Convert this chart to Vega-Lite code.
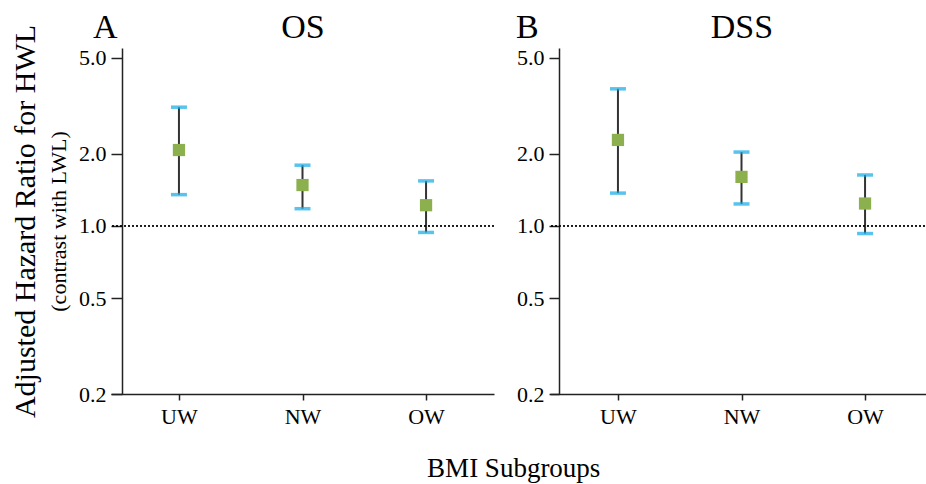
{
  "$schema": "https://vega.github.io/schema/vega-lite/v6.json",
  "background": "white",
  "padding": {"left": 10, "top": 10, "right": 0, "bottom": 5},
  "config": {
    "view": {"stroke": null},
    "font": "Liberation Serif",
    "axis": {"grid": false, "labelFont": "Liberation Serif", "titleFont": "Liberation Serif", "titleFontWeight": "normal", "labelColor": "#000", "titleColor": "#000", "domainColor": "#222", "tickColor": "#222", "domainWidth": 1.5, "tickWidth": 1.5},
    "title": {"font": "Liberation Serif", "fontWeight": "normal", "color": "#000"}
  },
  "bounds": "flush",
  "spacing": 56,
  "title": {"text": "BMI Subgroups", "orient": "bottom", "anchor": "middle", "font": "Liberation Serif", "fontWeight": "normal", "fontSize": 27, "dx": 42, "offset": 29},
  "datasets": {
    "hr": [
      {"panel": "OS", "group": "UW", "hr": 2.07, "lo": 1.35, "hi": 3.12},
      {"panel": "OS", "group": "NW", "hr": 1.48, "lo": 1.18, "hi": 1.79},
      {"panel": "OS", "group": "OW", "hr": 1.22, "lo": 0.94, "hi": 1.54},
      {"panel": "DSS", "group": "UW", "hr": 2.28, "lo": 1.37, "hi": 3.72},
      {"panel": "DSS", "group": "NW", "hr": 1.6, "lo": 1.235, "hi": 2.03},
      {"panel": "DSS", "group": "OW", "hr": 1.24, "lo": 0.93, "hi": 1.63}
    ]
  },
  "hconcat": [
    {
      "width": 383, "height": 346,
      "data": {"name": "hr"},
      "transform": [{"filter": "datum.panel === 'OS'"}],
      "title": {"text": "A", "anchor": "start", "frame": "group", "font": "Liberation Serif", "fontWeight": "normal", "fontSize": 34, "dx": -18, "offset": -35},
      "layer": [
        {
          "mark": {"type": "rule", "color": "#333", "strokeWidth": 2},
          "encoding": {
            "x": {"field": "group", "type": "nominal", "sort": ["UW", "NW", "OW"], "scale": {"type": "point", "padding": 0.55},
                  "axis": {"orient": "bottom", "title": null, "labelAngle": 0, "labelFont": "Liberation Serif", "labelFontSize": 22, "tickSize": 6, "labelPadding": 6}},
            "y": {"field": "lo", "type": "quantitative", "scale": {"type": "log", "domain": [0.2, 5.5], "nice": false},
                  "axis": {"orient": "left", "offset": -11, "values": [0.2, 0.5, 1, 2, 5], "format": ".1f", "tickSize": 11, "labelFont": "Liberation Serif", "labelFontSize": 22, "labelPadding": 5, "title": "(contrast with LWL)", "titleFont": "Liberation Serif", "titleFontSize": 22, "titlePadding": 8}},
            "y2": {"field": "hi"}
          }
        },
        {
          "mark": {"type": "tick", "color": "#12a9e6", "thickness": 3.5, "size": 16, "orient": "horizontal"},
          "encoding": {
            "x": {"field": "group", "type": "nominal", "sort": ["UW", "NW", "OW"],
                  "axis": {"orient": "top", "labels": false, "ticks": false, "domain": false, "title": "OS", "titleFont": "Liberation Serif", "titleFontSize": 34, "titlePadding": 4}},
            "y": {"field": "lo", "type": "quantitative",
                  "axis": {"orient": "left", "offset": -11, "labels": false, "ticks": false, "domain": false, "title": "Adjusted Hazard Ratio for HWL", "titleFont": "Liberation Serif", "titleFontSize": 30, "titlePadding": 82}}
          }
        },
        {
          "mark": {"type": "tick", "color": "#12a9e6", "thickness": 3.5, "size": 16, "orient": "horizontal"},
          "encoding": {
            "x": {"field": "group", "type": "nominal", "sort": ["UW", "NW", "OW"], "axis": null},
            "y": {"field": "hi", "type": "quantitative", "axis": null}
          }
        },
        {
          "mark": {"type": "square", "size": 150, "color": "#8cb04e", "opacity": 1, "filled": true},
          "encoding": {
            "x": {"field": "group", "type": "nominal", "sort": ["UW", "NW", "OW"], "axis": null},
            "y": {"field": "hr", "type": "quantitative", "axis": null}
          }
        },
        {
          "mark": {"type": "rule", "color": "#000", "strokeWidth": 1, "strokeDash": [2, 2]},
          "encoding": {"y": {"datum": 1, "type": "quantitative", "axis": null}}
        }
      ],
      "resolve": {"axis": {"x": "independent", "y": "independent"}}
    },
    {
      "width": 383, "height": 346,
      "data": {"name": "hr"},
      "transform": [{"filter": "datum.panel === 'DSS'"}],
      "title": {"text": "B", "anchor": "start", "frame": "group", "font": "Liberation Serif", "fontWeight": "normal", "fontSize": 34, "dx": -34, "offset": -35},
      "layer": [
        {
          "mark": {"type": "rule", "color": "#333", "strokeWidth": 2},
          "encoding": {
            "x": {"field": "group", "type": "nominal", "sort": ["UW", "NW", "OW"], "scale": {"type": "point", "padding": 0.55},
                  "axis": {"orient": "bottom", "title": null, "labelAngle": 0, "labelFont": "Liberation Serif", "labelFontSize": 22, "tickSize": 6, "labelPadding": 6}},
            "y": {"field": "lo", "type": "quantitative", "scale": {"type": "log", "domain": [0.2, 5.5], "nice": false},
                  "axis": {"orient": "left", "offset": -9, "values": [0.2, 0.5, 1, 2, 5], "format": ".1f", "tickSize": 10, "labelFont": "Liberation Serif", "labelFontSize": 22, "labelPadding": 5, "title": null}},
            "y2": {"field": "hi"}
          }
        },
        {
          "mark": {"type": "tick", "color": "#12a9e6", "thickness": 3.5, "size": 16, "orient": "horizontal"},
          "encoding": {
            "x": {"field": "group", "type": "nominal", "sort": ["UW", "NW", "OW"],
                  "axis": {"orient": "top", "labels": false, "ticks": false, "domain": false, "title": "DSS", "titleFont": "Liberation Serif", "titleFontSize": 34, "titlePadding": 4}},
            "y": {"field": "lo", "type": "quantitative", "axis": null}
          }
        },
        {
          "mark": {"type": "tick", "color": "#12a9e6", "thickness": 3.5, "size": 16, "orient": "horizontal"},
          "encoding": {
            "x": {"field": "group", "type": "nominal", "sort": ["UW", "NW", "OW"], "axis": null},
            "y": {"field": "hi", "type": "quantitative", "axis": null}
          }
        },
        {
          "mark": {"type": "square", "size": 150, "color": "#8cb04e", "opacity": 1, "filled": true},
          "encoding": {
            "x": {"field": "group", "type": "nominal", "sort": ["UW", "NW", "OW"], "axis": null},
            "y": {"field": "hr", "type": "quantitative", "axis": null}
          }
        },
        {
          "mark": {"type": "rule", "color": "#000", "strokeWidth": 1, "strokeDash": [2, 2]},
          "encoding": {"y": {"datum": 1, "type": "quantitative", "axis": null}}
        }
      ],
      "resolve": {"axis": {"x": "independent", "y": "independent"}}
    }
  ]
}
